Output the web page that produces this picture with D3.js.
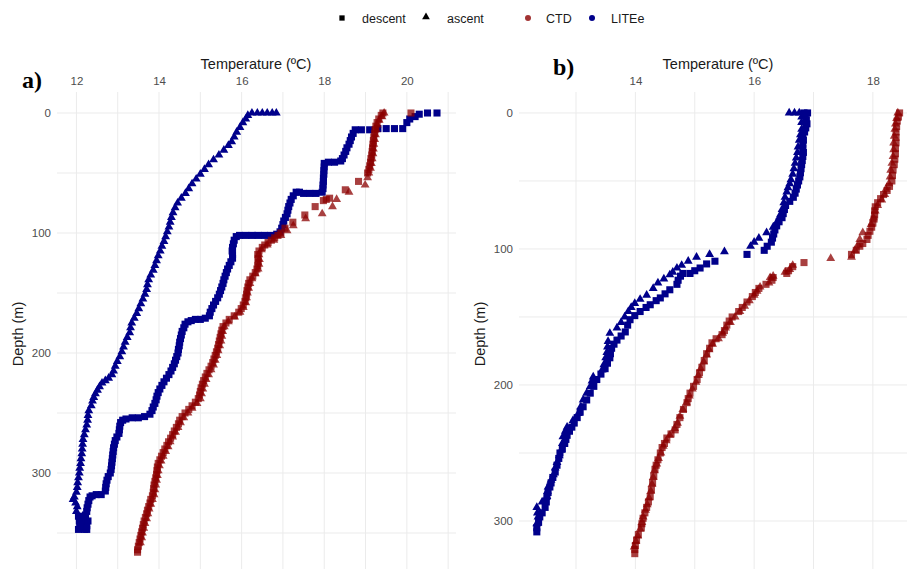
<!DOCTYPE html>
<html lang="en">
<head>
<meta charset="UTF-8">
<title>Temperature profiles - CTD vs LITEe</title>
<script src="https://cdn.jsdelivr.net/npm/d3@7"></script>
<style>
    body { margin: 0; background: #fff; }
    svg { display: block; font-family: "Liberation Sans", Arial, sans-serif; }
    .grid line { stroke: #ebebeb; stroke-width: 1; }
    .tick text { fill: #4d4d4d; font-size: 11.5px; }
    .axis-title { fill: #1a1a1a; font-size: 14.5px; }
    .panel-tag { font-family: "Liberation Serif", "Times New Roman", serif; font-weight: bold; font-size: 24px; fill: #000; }
    .legend text { font-size: 12.5px; fill: #1a1a1a; }
</style>
</head>
<body>
<svg id="chart" width="907" height="569"></svg>
<script>
// values, [depth (m), temperature (ºC)]
const aLiteDescent = [[0,20.73],[0,20.5],[1,20.3],[3,20.2],[5,20.07],[8,20.0],[13,19.9],[13,19.7],[13,19.5],[13,19.3],[14,19.1],[14,18.9],[14,18.75],
    [17,18.7],[20,18.66],[23,18.63],[26,18.6],[29,18.55],[32,18.52],[35,18.48],[38,18.44],[40,18.4],[41,18.25],[41,18.1],[42,18.0],[45,18.0],
    [48,17.99],[51,17.99],[54,17.98],[57,17.98],[60,17.97],[63,17.97],[66,17.95],[67,17.8],[67,17.65],[67,17.5],[66,17.4],[66,17.32],[69,17.25],
    [72,17.2],[75,17.17],[78,17.14],[81,17.12],[84,17.1],[87,17.06],[90,17.02],[93,17.0],[96,16.97],[99,16.93],[101,16.85],[102,16.7],[102,16.55],
    [102,16.4],[102,16.25],[102,16.1],[102,15.95],[103,15.87],[106,15.82],[109,15.8],[112,15.78],[115,15.77],[118,15.78],[121,15.78],[124,15.74],
    [127,15.7],[130,15.66],[133,15.63],[136,15.6],[139,15.57],[142,15.55],[145,15.52],[148,15.49],[151,15.46],[154,15.42],[157,15.37],[160,15.32],
    [163,15.28],[166,15.24],[169,15.22],[171,15.12],[172,15.0],[172,14.88],[173,14.78],[174,14.7],[176,14.63],[179,14.6],[182,14.56],[185,14.54],
    [188,14.52],[191,14.5],[194,14.49],[197,14.47],[200,14.46],[203,14.43],[206,14.4],[209,14.37],[212,14.33],[215,14.29],[218,14.24],[221,14.18],
    [224,14.12],[227,14.07],[230,14.02],[233,13.98],[236,13.95],[239,13.93],[242,13.9],[245,13.86],[248,13.83],[251,13.78],[253,13.65],[254,13.5],
    [254,13.35],[255,13.2],[256,13.12],[258,13.07],[261,13.05],[264,13.04],[267,13.03],[270,12.98],[273,12.94],[276,12.92],[279,12.9],[282,12.89],
    [285,12.88],[288,12.87],[291,12.86],[294,12.85],[297,12.84],[300,12.82],[303,12.77],[306,12.74],[309,12.72],[312,12.71],[315,12.7],[318,12.6],
    [318,12.48],[319,12.38],[320,12.33],[323,12.3],[326,12.28],[329,12.26],[332,12.25],[335,12.22],[338,12.2],[341,12.17],[344,12.15],[346,12.12],
    [347,12.2],[347,12.25],[344,12.25],[340,12.28],[336,12.05],[340,12.07],[344,12.08],[347,12.05]];

const aLiteAscent = [[0,16.25],[0,16.38],[0,16.5],[0,16.62],[0,16.74],[0,16.84],[2,16.15],[5,16.1],[8,16.03],[12,15.96],[16,15.88],[20,15.82],
    [24,15.76],[27,15.68],[31,15.57],[35,15.45],[39,15.32],[43,15.2],[47,15.1],[51,15.0],[55,14.9],[59,14.8],[63,14.72],[67,14.64],[71,14.54],
    [75,14.45],[79,14.39],[83,14.34],[87,14.3],[91,14.27],[95,14.24],[99,14.2],[103,14.16],[107,14.12],[111,14.07],[115,14.03],[119,13.98],
    [123,13.94],[127,13.9],[131,13.86],[135,13.8],[139,13.75],[143,13.72],[147,13.7],[151,13.66],[155,13.61],[159,13.56],[163,13.51],[167,13.46],
    [171,13.4],[175,13.34],[179,13.31],[183,13.29],[187,13.23],[191,13.18],[195,13.14],[199,13.1],[203,13.05],[207,12.99],[211,12.94],[215,12.9],
    [218,12.86],[221,12.78],[223,12.7],[225,12.62],[228,12.56],[231,12.51],[234,12.46],[237,12.42],[240,12.39],[244,12.36],[248,12.3],[252,12.28],
    [256,12.27],[260,12.25],[264,12.22],[268,12.19],[272,12.16],[276,12.15],[280,12.14],[284,12.13],[288,12.11],[292,12.1],[296,12.08],[300,12.07],
    [304,12.05],[308,12.03],[312,12.02],[316,12.0],[320,11.95],[322,11.92],[325,11.98],[328,12.02],[332,12.0]];

const aCtdDescent = [[0,20.1],[0,19.42],[2,19.38],[5,19.32],[8,19.28],[11,19.25],[14,19.23],[17,19.22],[20,19.2],[23,19.19],[26,19.18],[29,19.17],
    [32,19.16],[35,19.15],[38,19.13],[41,19.12],[44,19.1],[47,19.08],[50,19.05],[57,18.83],[64,18.51],[71,18.13],[72,18.05],[73,17.98],[78,17.78],
    [85,17.53],[91,17.24],[96,17.05],[100,16.95],[102,16.88],[104,16.8],[106,16.72],[108,16.64],[110,16.56],[112,16.5],[115,16.42],[118,16.39],
    [121,16.4],[124,16.4],[127,16.39],[130,16.37],[133,16.33],[136,16.27],[139,16.2],[142,16.17],[145,16.15],[148,16.13],[151,16.12],[154,16.1],
    [157,16.08],[160,16.04],[163,15.99],[166,15.93],[169,15.82],[172,15.7],[175,15.62],[178,15.55],[181,15.52],[184,15.5],[187,15.48],[190,15.46],
    [193,15.44],[196,15.42],[199,15.39],[202,15.36],[205,15.33],[208,15.3],[211,15.26],[214,15.21],[217,15.16],[220,15.12],[223,15.08],[226,15.05],
    [229,15.02],[232,15.0],[235,14.98],[238,14.95],[241,14.88],[244,14.8],[247,14.72],[250,14.63],[253,14.56],[256,14.5],[259,14.47],[262,14.42],
    [265,14.37],[268,14.33],[271,14.28],[274,14.23],[277,14.19],[280,14.14],[283,14.1],[286,14.06],[289,14.02],[292,13.98],[295,13.96],[298,13.95],
    [301,13.94],[304,13.92],[307,13.9],[310,13.88],[313,13.87],[316,13.86],[319,13.84],[322,13.8],[325,13.78],[328,13.75],[331,13.72],[334,13.7],
    [337,13.67],[340,13.64],[343,13.62],[346,13.6],[349,13.58],[352,13.56],[355,13.54],[358,13.52],[361,13.5],[364,13.48],[366,13.48]];

const aCtdAscent = [[0,19.45],[3,19.4],[6,19.33],[10,19.28],[14,19.26],[18,19.24],[22,19.22],[26,19.2],[30,19.19],[34,19.18],[38,19.16],[42,19.14],
    [46,19.12],[50,19.08],[54,19.05],[60,18.99],[66,18.6],[72,18.3],[78,18.2],[84,17.95],[88,17.55],[94,17.25],[98,17.1],[102,16.95],[106,16.78],
    [110,16.62],[114,16.48],[118,16.42],[122,16.43],[126,16.42],[130,16.4],[134,16.33],[138,16.25],[142,16.2],[146,16.17],[150,16.14],[154,16.12],
    [158,16.1],[162,16.04],[166,15.96],[170,15.83],[174,15.68],[178,15.58],[182,15.54],[186,15.52],[190,15.5],[194,15.47],[198,15.43],[202,15.4],
    [206,15.36],[210,15.32],[214,15.26],[218,15.2],[222,15.14],[226,15.1],[230,15.06],[234,15.03],[238,15.0],[242,14.92],[246,14.8],[250,14.7],
    [254,14.6],[258,14.52],[262,14.46],[266,14.4],[270,14.33],[274,14.27],[278,14.22],[282,14.16],[286,14.1],[290,14.05],[294,14.01],[298,13.98],
    [302,13.96],[306,13.94],[310,13.92],[314,13.9],[318,13.88],[322,13.84],[326,13.8],[330,13.76],[334,13.73],[338,13.7],[342,13.66],[346,13.63],
    [350,13.6],[354,13.58],[358,13.55]];

const bLiteDescent = [[0,16.9],[0,16.84],[2,16.86],[5,16.88],[8,16.89],[11,16.87],[14,16.85],[17,16.82],[20,16.83],[23,16.82],[26,16.82],[29,16.83],
    [32,16.82],[35,16.81],[38,16.8],[41,16.79],[44,16.78],[47,16.77],[50,16.75],[53,16.73],[56,16.71],[59,16.69],[62,16.66],[65,16.6],[68,16.53],
    [71,16.51],[74,16.49],[77,16.47],[80,16.42],[83,16.38],[86,16.35],[89,16.33],[92,16.31],[95,16.29],[98,16.22],[101,16.17],[104,15.88],[109,15.34],
    [111,15.2],[114,15.09],[116,15.0],[118,14.92],[118,14.8],[120,14.76],[123,14.72],[126,14.7],[130,14.58],[133,14.5],[136,14.42],[138,14.35],
    [141,14.25],[143,14.18],[146,14.08],[149,13.99],[152,13.91],[156,13.87],[161,13.83],[164,13.76],[167,13.69],[170,13.64],[173,13.6],[177,13.58],
    [180,13.57],[184,13.53],[188,13.49],[192,13.42],[196,13.35],[201,13.3],[206,13.24],[211,13.18],[216,13.12],[220,13.07],[224,13.02],[228,12.97],
    [231,12.93],[234,12.89],[237,12.85],[240,12.83],[243,12.81],[247,12.77],[250,12.73],[254,12.71],[259,12.68],[264,12.65],[268,12.61],[272,12.58],
    [275,12.56],[279,12.53],[282,12.51],[286,12.5],[290,12.48],[294,12.43],[297,12.39],[301,12.37],[305,12.34],[308,12.34]];

const bLiteAscent = [[0,16.59],[0,16.68],[0,16.76],[3,16.8],[7,16.8],[12,16.8],[16,16.78],[20,16.76],[25,16.74],[29,16.73],[33,16.71],[37,16.69],
    [41,16.67],[45,16.65],[49,16.62],[52,16.6],[55,16.57],[58,16.55],[62,16.52],[66,16.5],[71,16.47],[75,16.44],[79,16.4],[84,16.32],[88,16.21],
    [92,16.08],[95,16.0],[98,15.94],[102,15.5],[104,15.25],[106,15.03],[109,14.89],[112,14.78],[114,14.7],[117,14.63],[119,14.58],[122,14.48],
    [125,14.38],[129,14.3],[134,14.19],[137,14.08],[140,13.99],[143,13.93],[146,13.88],[150,13.82],[154,13.76],[158,13.69],[162,13.57],[168,13.54],
    [172,13.53],[176,13.52],[180,13.5],[185,13.47],[189,13.44],[194,13.29],[197,13.27],[201,13.24],[206,13.18],[211,13.12],[216,13.08],[221,13.04],
    [226,12.95],[231,12.85],[234,12.82],[238,12.78],[243,12.77],[248,12.75],[252,12.72],[257,12.68],[261,12.65],[266,12.62],[270,12.58],[275,12.53],
    [278,12.52],[282,12.51],[286,12.43],[290,12.34],[294,12.35],[297,12.36],[302,12.34]];

const bCtdDescent = [[0,18.45],[3,18.43],[6,18.41],[10,18.4],[14,18.39],[18,18.39],[22,18.39],[26,18.38],[30,18.38],[34,18.37],[38,18.36],[42,18.34],
    [46,18.33],[50,18.32],[54,18.28],[57,18.24],[60,18.18],[63,18.13],[66,18.08],[69,18.04],[72,18.03],[75,18.03],[78,18.02],[81,18.0],[84,17.98],
    [87,17.95],[90,17.92],[93,17.9],[96,17.83],[98,17.78],[101,17.72],[104,17.64],[110,16.84],[113,16.65],[116,16.58],[118,16.55],[121,16.32],
    [123,16.3],[126,16.2],[129,16.08],[132,16.02],[135,15.97],[139,15.88],[143,15.8],[146,15.74],[150,15.63],[153,15.58],[156,15.54],[160,15.5],
    [163,15.46],[166,15.36],[169,15.29],[173,15.25],[177,15.2],[182,15.16],[187,15.12],[191,15.08],[196,15.04],[201,14.98],[206,14.92],[210,14.89],
    [213,14.87],[218,14.81],[224,14.75],[229,14.7],[233,14.67],[236,14.6],[239,14.53],[243,14.49],[246,14.45],[250,14.42],[255,14.38],[259,14.35],
    [262,14.33],[267,14.31],[272,14.29],[277,14.27],[282,14.25],[286,14.22],[290,14.19],[294,14.16],[298,14.13],[302,14.11],[305,14.1],[310,14.05],
    [314,14.02],[318,14.0],[321,13.99],[324,13.99]];

const bCtdAscent = [[0,18.42],[4,18.4],[8,18.38],[12,18.37],[17,18.36],[22,18.35],[27,18.35],[32,18.34],[37,18.32],[42,18.3],[47,18.29],[52,18.27],
    [56,18.22],[60,18.2],[64,18.15],[68,18.08],[72,18.04],[77,18.01],[82,17.97],[88,17.83],[93,17.78],[97,17.75],[101,17.7],[106,17.64],[107,17.29],
    [112,16.65],[115,16.6],[117,16.52],[120,16.32],[121,16.27],[125,16.25],[128,16.1],[131,16.05],[134,16.0],[138,15.92],[142,15.84],[146,15.76],
    [150,15.68],[154,15.6],[158,15.52],[162,15.47],[166,15.4],[170,15.3],[174,15.24],[178,15.2],[183,15.15],[188,15.1],[193,15.06],[198,15.02],
    [203,14.96],[208,14.91],[213,14.86],[218,14.8],[223,14.75],[228,14.71],[232,14.66],[237,14.58],[241,14.52],[245,14.47],[250,14.43],[254,14.39],
    [258,14.36],[263,14.32],[268,14.3],[273,14.28],[278,14.26],[283,14.23],[288,14.2],[292,14.17],[297,14.13],[301,14.11],[306,14.08],[311,14.04],
    [315,14.01],[319,13.98]];

const aTempTicks = [12, 14, 16, 18, 20];
const aTempMinor = [13, 15, 17, 19, 21];
const bTempTicks = [14, 16, 18];
const bTempMinor = [13, 15, 17];
const depthTicks = [0, 100, 200, 300];
const aDepthMinor = [50, 150, 250, 350];
const bDepthMinor = [50, 150, 250];

const colors = { CTD: "#8B0000", LITEe: "#00008B" };

const panels = [
    { tag: "a)", tagX: 22, tagY: 88, left: 57, right: 456, titleX: 256,
      tempDomain: [11.53, 21.19], depthDomain: [-17.5, 385],
      ticks: aTempTicks, minor: aTempMinor, dMinor: aDepthMinor,
      series: [
        { data: aLiteDescent, src: "LITEe", kind: "descent" },
        { data: aLiteAscent, src: "LITEe", kind: "ascent" },
        { data: aCtdDescent, src: "CTD", kind: "descent" },
        { data: aCtdAscent, src: "CTD", kind: "ascent" }
      ] },
    { tag: "b)", tagX: 553, tagY: 75, left: 519, right: 918, titleX: 718,
      tempDomain: [12.04, 18.76], depthDomain: [-15.4, 339.7],
      ticks: bTempTicks, minor: bTempMinor, dMinor: bDepthMinor,
      series: [
        { data: bLiteDescent, src: "LITEe", kind: "descent" },
        { data: bLiteAscent, src: "LITEe", kind: "ascent" },
        { data: bCtdDescent, src: "CTD", kind: "descent" },
        { data: bCtdAscent, src: "CTD", kind: "ascent" }
      ] }
];

const plotTop = 92, plotBottom = 575;
const svg = d3.select("#chart");

const squareSym = d3.symbol().type(d3.symbolSquare).size(50);
const triangleSym = d3.symbol().type(d3.symbolTriangle).size(34);

panels.forEach(p => {
    const x = d3.scaleLinear().domain(p.tempDomain).range([p.left, p.right]);
    const y = d3.scaleLinear().domain(p.depthDomain).range([plotTop, plotBottom]);

    const g = svg.append("g");
    const grid = g.append("g").attr("class", "grid");
    grid.selectAll("line.v")
        .data(p.ticks.concat(p.minor))
        .enter().append("line")
        .attr("x1", d => x(d)).attr("x2", d => x(d))
        .attr("y1", plotTop).attr("y2", plotBottom);
    grid.selectAll("line.h")
        .data(depthTicks.concat(p.dMinor))
        .enter().append("line")
        .attr("x1", p.left).attr("x2", p.right)
        .attr("y1", d => y(d)).attr("y2", d => y(d));

    const xAxis = g.append("g")
        .attr("transform", `translate(0,${plotTop})`)
        .call(d3.axisTop(x).tickValues(p.ticks).tickFormat(d3.format("d")).tickSize(0).tickPadding(7));
    xAxis.select(".domain").remove();

    const yAxis = g.append("g")
        .attr("transform", `translate(${p.left},0)`)
        .call(d3.axisLeft(y).tickValues(depthTicks).tickFormat(d3.format("d")).tickSize(0).tickPadding(6));
    yAxis.select(".domain").remove();
    g.selectAll(".tick text").attr("font-family", null).attr("font-size", null);

    g.append("text")
        .attr("class", "axis-title")
        .attr("x", p.titleX).attr("y", 69)
        .attr("text-anchor", "middle")
        .text("Temperature (ºC)");

    g.append("text")
        .attr("class", "axis-title")
        .attr("transform", `translate(${p.left - 34},334) rotate(-90)`)
        .attr("text-anchor", "middle")
        .text("Depth (m)");

    g.append("text")
        .attr("class", "panel-tag")
        .attr("x", p.tagX).attr("y", p.tagY)
        .text(p.tag);

    p.series.forEach(s => {
        g.append("g").selectAll("path")
            .data(s.data)
            .enter().append("path")
            .attr("d", s.kind === "descent" ? squareSym : triangleSym)
            .attr("transform", d => `translate(${x(d[1])},${y(d[0])})`)
            .attr("fill", colors[s.src])
            .attr("fill-opacity", s.src === "CTD" ? 0.75 : 1);
    });
});

// legend
const legend = svg.append("g").attr("class", "legend");
const legendY = 19;
legend.append("path")
    .attr("d", d3.symbol().type(d3.symbolSquare).size(28)())
    .attr("transform", `translate(342,${legendY - 1})`).attr("fill", "#000");
legend.append("text").attr("x", 362).attr("y", legendY + 4).text("descent");
legend.append("path")
    .attr("d", d3.symbol().type(d3.symbolTriangle).size(26)())
    .attr("transform", `translate(426,${legendY - 2})`).attr("fill", "#000");
legend.append("text").attr("x", 447).attr("y", legendY + 4).text("ascent");
legend.append("circle").attr("cx", 528).attr("cy", legendY - 1).attr("r", 3)
    .attr("fill", colors.CTD).attr("fill-opacity", 0.8);
legend.append("text").attr("x", 546).attr("y", legendY + 4).text("CTD");
legend.append("circle").attr("cx", 592).attr("cy", legendY - 1).attr("r", 3)
    .attr("fill", colors.LITEe);
legend.append("text").attr("x", 611).attr("y", legendY + 4).text("LITEe");
</script>
</body>
</html>
